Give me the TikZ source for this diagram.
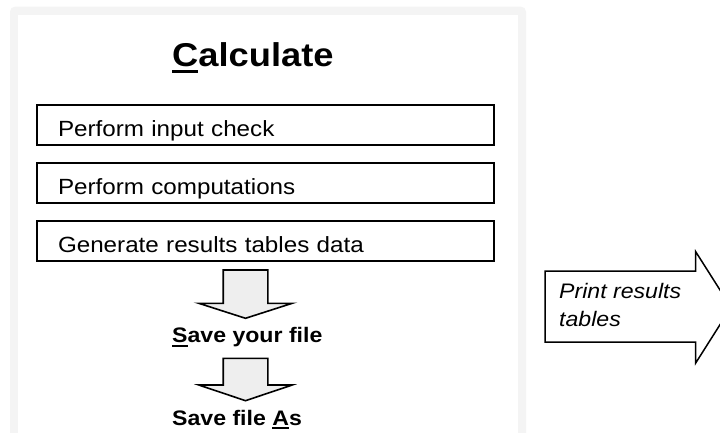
\documentclass[tikz,border=0pt]{standalone}
\usepackage{fontspec}
\setmainfont[FakeStretch=1.1]{Liberation Sans}
\usetikzlibrary{positioning, calc}
\definecolor{cFrame}{RGB}{244,244,244}
\definecolor{cArrow}{RGB}{238,238,238}
\newcommand{\hotkey}[1]{\setbox0\hbox{#1}\rlap{\rule[-0.2em]{\wd0}{0.09em}}#1}
\tikzset{
	stepbox/.style={rectangle, draw=black, line width=2pt, minimum width=457pt, minimum height=40pt, text width=415pt, align=left, inner xsep=0pt, inner ysep=0pt, text height=23.5pt, text depth=0pt, font=\fontsize{22}{26}\selectfont},
	titletext/.style={inner sep=0pt, font=\fontsize{33}{40}\selectfont\bfseries},
	savetext/.style={inner sep=0pt, font=\fontsize{21}{25}\selectfont\bfseries},
	printtext/.style={inner sep=0pt, align=left, font=\fontsize{21}{28.4}\selectfont\itshape},
	downarrow/.style={draw=black, line width=1.6pt, fill=cArrow, line join=miter},
	printarrow/.style={draw=black, line width=1.5pt, fill=white, line join=miter},
}
\begin{document}
\begin{tikzpicture}[x=1pt, y=-1pt]
	\useasboundingbox (0,0) rectangle (720,433);
	\clip (0,0) rectangle (720,433);
	\fill[white] (0,0) rectangle (720,433);
	% panel
	\fill[cFrame, rounded corners=5pt] (10,6.7) rectangle (526,460);
	\fill[white] (17.5,15) rectangle (518,460);
	\node[titletext, anchor=base west] (title) at (172,66.7) {\hotkey{C}alculate};
	% steps
	\node[stepbox] (check) at (265.5,125) {Perform input check};
	\node[stepbox, below=16pt of check] (compute) {Perform computations};
	\node[stepbox, below=16pt of compute] (tables) {Generate results tables data};
	% save
	\coordinate (arrA) at (245.5,270);
	\draw[downarrow] ($(arrA)+(-22.3,0)$) -- ++(44.6,0) -- ++(0,33.3) -- ++(24.4,0)
		-- ($(arrA)+(0,48.3)$) -- ++(-46.7,-15) -- ++(24.4,0) -- cycle;
	\node[savetext, anchor=base west] (save) at (172,342.3) {\hotkey{S}ave your file};
	\coordinate (arrB) at (245.5,358.3);
	\draw[downarrow] ($(arrB)+(-22.3,0)$) -- ++(44.6,0) -- ++(0,26.7) -- ++(24.4,0)
		-- ($(arrB)+(0,42.4)$) -- ++(-46.7,-15.7) -- ++(24.4,0) -- cycle;
	\node[savetext, anchor=base west] (saveas) at (172,425) {Save file \hotkey{A}s};
	% print
	\coordinate (prA) at (545,271);
	\draw[printarrow] (prA) -- ++(150.7,0) -- ++(0,-19.3) -- ++(35.3,55.6) -- ++(-35.3,55.7)
		-- ++(0,-21) -- ++(-150.7,0) -- cycle;
	\node[printtext, anchor=west] (print) at (559,305) {Print results\\tables};
\end{tikzpicture}
\end{document}
